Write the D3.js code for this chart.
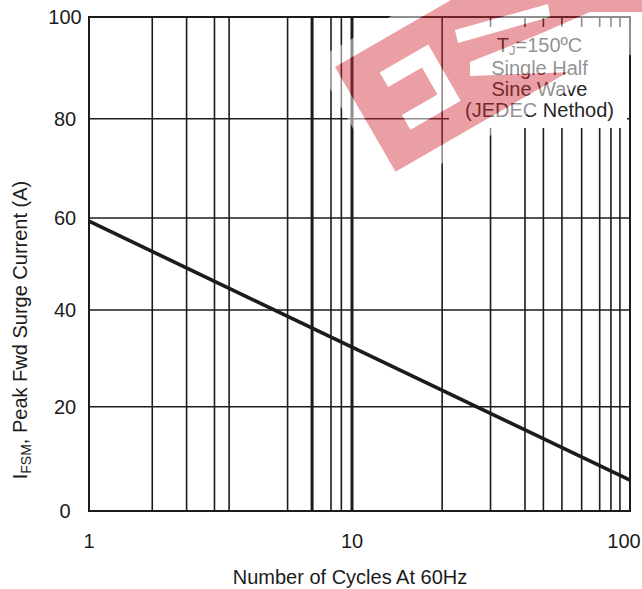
<!DOCTYPE html>
<html>
<head>
<meta charset="utf-8">
<script src="https://cdn.jsdelivr.net/npm/d3@7"></script>
<style>
  html, body { margin: 0; padding: 0; background: #fff; }
  svg { display: block; font-family: "Liberation Sans", Arial, Helvetica, sans-serif; }
</style>
</head>
<body>
<svg id="chart" width="642" height="589"></svg>
<script>
// Maximum non-repetitive surge current vs. number of cycles
const cycles = [1, 100];
const surgeAmps = [59.3, 5.9];

// Printed grid of the log paper (cycles) and current grid (A)
const gridCycles = [1.74, 2.35, 3.0, 3.41, 5.69, 7.05, 8.32, 9.11, 10,
                    21.1, 31.5, 41.9, 48.8, 56.9, 67, 77.8, 85.4, 92];
const heavyCycles = [7.05, 10];
const gridAmps = [20, 40, 60, 80];

const xTickValues = [1, 10, 100];
const xTickLabels = ["1", "10", "100"];
const yTickValues = [0, 20, 40, 60, 80, 100];
const yTickLabels = ["0", "20", "40", "60", "80", "100"];

const noteLines = ["Single Half", "Sine Wave", "(JEDEC Nethod)"];

const svg = d3.select("#chart");
const ink = "#1c1c1c";

const x = d3.scaleLog().domain([1, 10, 100]).range([89, 352, 630]);
const y = d3.scaleLinear().domain([0, 20, 40, 60, 80, 100]).range([511, 406.7, 310, 218, 118.7, 17]);

const plot = svg.append("g");

// vertical grid
plot.selectAll("line.vg").data(gridCycles).join("line")
  .attr("class", "vg")
  .attr("x1", d => x(d)).attr("x2", d => x(d))
  .attr("y1", y(0)).attr("y2", y(100))
  .attr("stroke", ink)
  .attr("stroke-width", d => heavyCycles.includes(d) ? 3 : 1.6);

// horizontal grid
plot.selectAll("line.hg").data(gridAmps).join("line")
  .attr("class", "hg")
  .attr("x1", x(1)).attr("x2", x(100))
  .attr("y1", d => y(d)).attr("y2", d => y(d))
  .attr("stroke", ink).attr("stroke-width", 1.6);

// note panel (blanks the grid behind it)
const note = plot.append("g");
note.append("rect")
  .attr("x", 449).attr("y", 27).attr("width", 178).attr("height", 101)
  .attr("fill", "#fff");

const noteText = note.append("text")
  .attr("x", 539.5).attr("y", 52)
  .attr("text-anchor", "middle")
  .attr("font-size", 20).attr("fill", "#262626");
noteText.append("tspan").text("T");
noteText.append("tspan").attr("font-size", 13).attr("dy", 3).text("J");
noteText.append("tspan").attr("dy", -3).text("=150ºC");

note.selectAll("text.nl").data(noteLines).join("text")
  .attr("class", "nl")
  .attr("x", 539.5).attr("y", (d, i) => 75 + i * 20.8)
  .attr("text-anchor", "middle")
  .attr("font-size", 20).attr("fill", "#262626")
  .text(d => d);

// frame
plot.append("rect")
  .attr("x", x(1)).attr("y", y(100))
  .attr("width", x(100) - x(1)).attr("height", y(0) - y(100))
  .attr("fill", "none").attr("stroke", ink).attr("stroke-width", 2);

// surge curve
const pts = cycles.map((c, i) => [c, surgeAmps[i]]);
plot.append("path")
  .datum(pts)
  .attr("d", d3.line().x(d => x(d[0])).y(d => y(d[1])))
  .attr("fill", "none").attr("stroke", ink).attr("stroke-width", 3.6);

// tick labels
svg.selectAll("text.yt").data(yTickValues).join("text")
  .attr("class", "yt")
  .attr("x", 65).attr("y", d => y(d)).attr("dy", "0.36em")
  .attr("text-anchor", "middle").attr("font-size", 20).attr("fill", ink)
  .text((d, i) => yTickLabels[i]);

svg.selectAll("text.xt").data(xTickValues).join("text")
  .attr("class", "xt")
  .attr("x", d => Math.min(x(d), 624)).attr("y", 548)
  .attr("text-anchor", "middle").attr("font-size", 20).attr("fill", ink)
  .text((d, i) => xTickLabels[i]);

// axis titles
svg.append("text")
  .attr("x", 350).attr("y", 584)
  .attr("text-anchor", "middle").attr("font-size", 20).attr("fill", ink)
  .text("Number of Cycles At 60Hz");

const yTitle = svg.append("text")
  .attr("transform", "translate(27,330) rotate(-90)")
  .attr("text-anchor", "middle").attr("font-size", 20).attr("fill", ink);
yTitle.append("tspan").text("I");
yTitle.append("tspan").attr("font-size", 14).attr("dy", 4).text("FSM");
yTitle.append("tspan").attr("dy", -4).text(", Peak Fwd Surge Current (A)");

// ---- brand watermark (rotated band with cut-out letter strokes) ----
const ang = -30 * Math.PI / 180;
const ox = 335, oy = 67;
const toPage = ([u, v]) => [ox + u * Math.cos(ang) - v * Math.sin(ang),
                            oy + u * Math.sin(ang) + v * Math.cos(ang)];
const poly = p => "M" + p.map(q => q.join(",")).join("L") + "Z";
const rectLocal = (u0, v0, u1, v1) => [[u0, v0], [u1, v0], [u1, v1], [u0, v1]].map(toPage);

const band = rectLocal(0, 0, 520, 121);
const halo = rectLocal(-15, -16, 540, 137);
const cuts = [
  [[36, 27], [92, 27], [92, 92], [34, 92], [34, 75], [75, 75], [75, 44], [36, 44]].map(toPage),
  [[455, 30], [548, 4], [550, 17], [458, 43]],
  [[470, 62], [535, 36], [590, 12], [642, 12], [660, 12], [660, 40], [572, 72], [470, 76]]
];

const defs = svg.append("defs");
const mPink = defs.append("mask").attr("id", "mPink")
  .attr("maskUnits", "userSpaceOnUse").attr("x", 0).attr("y", 0).attr("width", 642).attr("height", 589);
mPink.append("path").attr("d", poly(band)).attr("fill", "#fff");
mPink.selectAll("path.c").data(cuts).join("path").attr("class", "c").attr("d", poly).attr("fill", "#000");

const mHalo = defs.append("mask").attr("id", "mHalo")
  .attr("maskUnits", "userSpaceOnUse").attr("x", 0).attr("y", 0).attr("width", 642).attr("height", 589);
mHalo.append("path").attr("d", poly(halo)).attr("fill", "#fff");
mHalo.append("path").attr("d", poly(band)).attr("fill", "#000");
mHalo.selectAll("path.c").data(cuts).join("path").attr("class", "c").attr("d", poly).attr("fill", "#fff");

const wm = svg.append("g");
wm.append("rect").attr("width", 642).attr("height", 589)
  .attr("fill", "#fff").attr("opacity", 0.5).attr("mask", "url(#mHalo)");
wm.append("rect").attr("width", 642).attr("height", 589)
  .attr("fill", "rgb(208,44,55)").attr("opacity", 0.45).attr("mask", "url(#mPink)");
</script>
</body>
</html>
